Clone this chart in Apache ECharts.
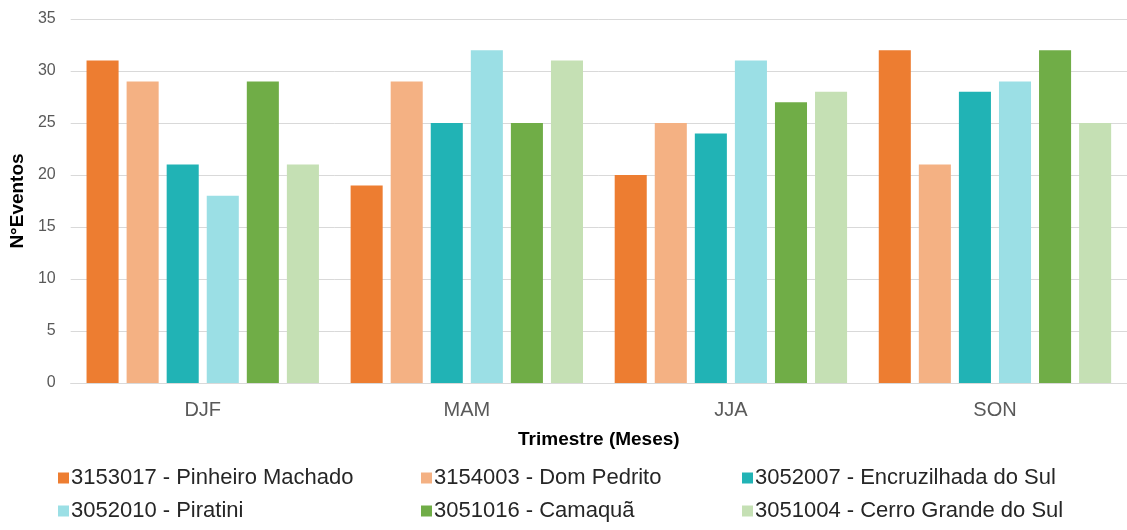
<!DOCTYPE html>
<html>
<head>
<meta charset="utf-8">
<script src="https://cdn.jsdelivr.net/npm/echarts@6/dist/echarts.min.js"></script>
<style>
  html, body { margin: 0; padding: 0; background: #ffffff; }
  #chart { width: 1127px; height: 530px; }
</style>
</head>
<body>
<div id="chart"></div>
<script>
// Trimestres (x-axis categories)
const categories = ['DJF', 'MAM', 'JJA', 'SON'];

// Stations and their number of events per trimester
const stationNames = [
  '3153017 - Pinheiro Machado',
  '3154003 - Dom Pedrito',
  '3052007 - Encruzilhada do Sul',
  '3052010 - Piratini',
  '3051016 - Camaquã',
  '3051004 - Cerro Grande do Sul'
];
const pinheiroMachado = [31, 19, 20, 32];
const domPedrito = [29, 29, 25, 21];
const encruzilhadaDoSul = [21, 25, 24, 28];
const piratini = [18, 32, 31, 29];
const camaqua = [29, 25, 27, 32];
const cerroGrandeDoSul = [21, 31, 28, 25];
const stationValues = [pinheiroMachado, domPedrito, encruzilhadaDoSul, piratini, camaqua, cerroGrandeDoSul];

const yTicks = [0, 5, 10, 15, 20, 25, 30, 35];

const palette = ['#ED7D31', '#F4B183', '#21B3B5', '#9BDFE5', '#70AD47', '#C5E0B4'];

const textColor = '#595959';
const font = 'Liberation Sans, Arial, sans-serif';

const series = stationNames.map((name, i) => ({
  name: name,
  type: 'bar',
  data: stationValues[i],
  itemStyle: { color: palette[i] },
  barGap: '25%',
  barCategoryGap: '12%',
  emphasis: { disabled: true }
}));

// One legend column holds two stations stacked vertically
function legendColumn(names, left) {
  return {
    orient: 'vertical',
    left: left,
    top: 467,
    height: 60,
    padding: 0,
    itemWidth: 11,
    itemHeight: 11,
    itemGap: 11,
    icon: 'rect',
    selectedMode: false,
    data: names,
    textStyle: { fontFamily: font, fontSize: 22, color: '#262626', padding: [0, 0, 0, -3] }
  };
}

const chart = echarts.init(document.getElementById('chart'), null, { renderer: 'canvas' });
chart.setOption({
  animation: false,
  backgroundColor: '#ffffff',
  grid: { left: 70, top: 19, width: 1061, height: 364, containLabel: false },
  legend: [
    legendColumn([stationNames[0], stationNames[3]], 58),
    legendColumn([stationNames[1], stationNames[4]], 421),
    legendColumn([stationNames[2], stationNames[5]], 742)
  ],
  xAxis: {
    type: 'category',
    data: categories,
    name: 'Trimestre (Meses)',
    nameLocation: 'middle',
    nameGap: 47,
    nameTextStyle: { fontFamily: font, fontSize: 19, fontWeight: 'bold', color: '#000000' },
    axisLine: { show: true, lineStyle: { color: '#d9d9d9', width: 1 } },
    axisTick: { show: false },
    axisLabel: { margin: 17, fontFamily: font, fontSize: 20, color: textColor }
  },
  yAxis: {
    type: 'value',
    min: yTicks[0],
    max: yTicks[yTicks.length - 1],
    interval: yTicks[1] - yTicks[0],
    name: 'N°Eventos',
    nameLocation: 'middle',
    nameRotate: 90,
    nameGap: 43,
    nameTextStyle: { fontFamily: font, fontSize: 19, fontWeight: 'bold', color: '#000000' },
    axisLine: { show: false },
    axisTick: { show: false },
    axisLabel: { margin: 15, fontFamily: font, fontSize: 16, color: textColor },
    splitLine: { show: true, lineStyle: { color: '#d9d9d9', width: 1 } }
  },
  series: series
});
</script>
</body>
</html>
